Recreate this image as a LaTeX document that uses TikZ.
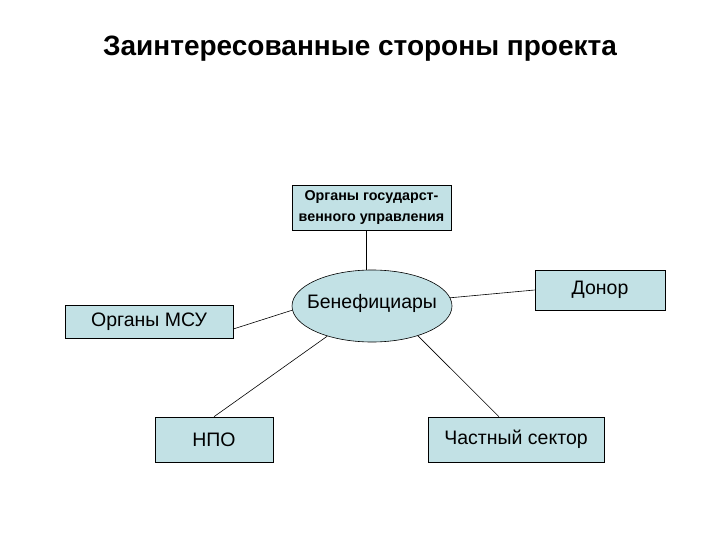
\documentclass[tikz,border=0pt]{standalone}
\usepackage{fontspec}
\setmainfont{Liberation Sans}
\usetikzlibrary{shapes.geometric}
\definecolor{boxfill}{HTML}{C2E1E5}
\begin{document}
\begin{tikzpicture}[x=1pt,y=-1pt,
  rbox/.style={draw=black,line width=0.6pt,fill=boxfill,inner sep=0pt,align=center},
  big/.style={font=\fontsize{19.5}{22}\selectfont},
  link/.style={draw=black,line width=0.6pt}]
\useasboundingbox (0,0) rectangle (720,540);
\node[font=\bfseries\fontsize{28}{32}\selectfont] (title) at (360,49) {Заинтересованные стороны проекта};
\node[rbox,minimum width=159pt,minimum height=45pt,font=\bfseries\fontsize{14.3}{21}\selectfont] (gov) at (371.5,207.5) {Органы государст-\\венного управления};
\node[ellipse,rbox,minimum width=160pt,minimum height=72pt] (ell) at (372,306) {};
\node[big,inner sep=0pt] (elltext) at (372,303) {Бенефициары};
\node[rbox,big,minimum width=130pt,minimum height=40pt] (don) at (600,290) {Донор};
\node[rbox,big,minimum width=168pt,minimum height=33pt] (msu) at (149,321.5) {Органы МСУ};
\node[rbox,big,minimum width=118pt,minimum height=45pt] (npo) at (214,439.5) {НПО};
\node[rbox,big,minimum width=176pt,minimum height=45pt] (ps) at (516,439.5) {Частный сектор};
\path[link] ([xshift=-5.5pt]gov.south) -- ([xshift=-5.5pt]gov.south |- ell.north);
\path[link] ([yshift=-7.5pt]msu.east) -- (ell.183);
\path[link] (ell.6) -- (don.west);
\path[link] (npo.north) -- (ell.-146);
\path[link] ([xshift=-17pt]ps.north) -- (ell.-33);
\end{tikzpicture}
\end{document}
